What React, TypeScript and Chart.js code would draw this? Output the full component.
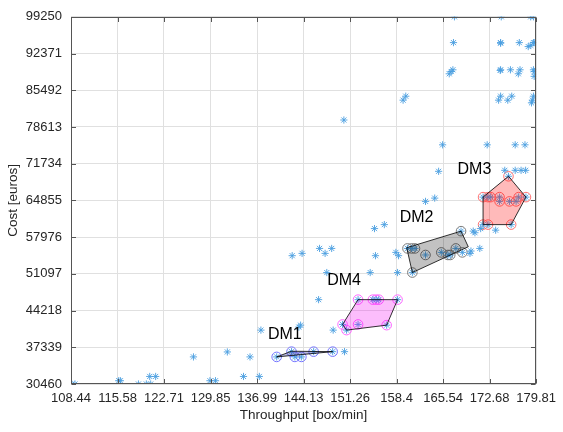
import React, { useEffect, useRef } from 'react';
import { Chart, registerables } from 'chart.js';

Chart.register(...registerables);

const FONT = "'Liberation Sans', Arial, Helvetica, sans-serif";

const xTicks = [108.44, 115.58, 122.71, 129.85, 136.99, 144.13, 151.26, 158.4, 165.54, 172.68, 179.81];
const yTicks = [30460, 37339, 44218, 51097, 57976, 64855, 71734, 78613, 85492, 92371, 99250];

// all solutions (asterisks)
const allX = [
  108.55, 109.05, 115.76, 116.02, 118.79, 120.0, 120.67, 120.52, 121.43, 127.23, 129.76, 130.61, 132.43, 134.91, 135.91, 137.34, 137.58,
  140.0, 142.28, 142.79, 143.79, 145.67, 148.59,
  143.67, 143.4, 150.41, 148.67,
  142.38, 143.9, 146.58, 147.43, 148.44, 146.43, 147.69, 150.31,
  152.49, 154.76, 155.26, 155.67, 158.55, 150.11, 150.72, 152.49, 156.88,
  155.16, 154.35, 155.01, 156.52, 158.29, 158.7, 158.55,
  162.84, 164.25, 164.85, 165.46,
  159.4, 159.81, 166.48, 166.78, 167.04, 167.13, 167.28,
  160.07, 160.72, 161.22, 162.84, 165.26, 166.28, 166.63, 167.49, 168.29, 168.49, 160.82,
  169.66, 169.81, 171.17,
  170.16, 170.42, 171.3, 173.6,
  175.57, 171.67, 172.43, 172.84, 174.2, 174.2, 175.72, 176.74, 177.13, 178.25, 171.67, 172.43, 175.98,
  172.3, 176.6, 178.1,
  175.0, 176.6, 177.5, 178.2,
  174.46, 178.98, 179.4,
  174.36, 174.36, 177.23, 178.6, 179.0, 179.4, 179.61,
  174.36, 174.3, 175.87, 177.08, 177.34, 179.4, 179.51, 179.51,
  174.05, 174.36, 175.46, 176.07, 179.1, 179.25, 179.4,
];
const allY = [
  30460, 30460, 31074, 31074, 30460, 30460, 30460, 31873, 31873, 35536, 31074, 31074, 36465, 31873, 35536, 31873, 40555,
  35536, 36521, 35536, 35536, 36521, 36521,
  41485, 41120, 36521, 40555,
  54500, 54930, 55857, 54930, 55857, 46263, 51339, 79915,
  46263, 46263, 46263, 46263, 46263, 41615, 40555, 41615, 41485,
  54500, 51339, 59575, 60319, 55113, 54500, 51339,
  64669, 65283, 70303, 75267,
  83633, 84377, 88578, 89000, 89322, 94416, 99250,
  55857, 55857, 55857, 54630, 55113, 54630, 54630, 55857, 59092, 55113, 51339,
  54930, 55370, 55857,
  59100, 58800, 59575, 59277,
  69374, 65469, 65469, 65469, 65469, 64669, 64669, 64669, 65469, 65469, 60319, 60319, 60319,
  75267, 75267, 75267,
  70490, 70490, 70490, 70490,
  99250, 99250, 99250,
  94416, 94300, 94416, 93672, 93900, 94416, 94416,
  89322, 89200, 89322, 88578, 89322, 89322, 89000, 88095,
  83633, 84377, 83633, 84377, 83131, 83633, 84377,
];

// decision-maker selections (circles)
const dm1X = [140.0, 142.28, 142.79, 143.79, 145.67, 148.59];
const dm1Y = [35536, 36521, 35536, 35536, 36521, 36521];
const dm2X = [160.07, 160.72, 161.22, 162.84, 165.26, 166.28, 166.63, 167.49, 168.29, 168.49, 160.82];
const dm2Y = [55857, 55857, 55857, 54630, 55113, 54630, 54630, 55857, 59092, 55113, 51339];
const dm3X = [175.57, 171.67, 172.43, 172.84, 174.2, 174.2, 175.72, 176.74, 177.13, 178.25, 171.67, 172.43, 175.98];
const dm3Y = [69374, 65469, 65469, 65469, 65469, 64669, 64669, 64669, 65469, 65469, 60319, 60319, 60319];
const dm4X = [152.49, 154.76, 155.26, 155.67, 158.55, 150.11, 150.72, 152.49, 156.88];
const dm4Y = [46263, 46263, 46263, 46263, 46263, 41615, 40555, 41615, 41485];

// convex hull vertices
const dm1HullX = [140.0, 142.28, 148.59];
const dm1HullY = [35536, 36600, 36521];
const dm2HullX = [159.95, 168.29, 169.4, 160.82];
const dm2HullY = [55990, 59092, 56170, 51339];
const dm3HullX = [175.57, 178.25, 175.98, 171.67, 171.67];
const dm3HullY = [69374, 65469, 60319, 60319, 65469];
const dm4HullX = [152.49, 158.55, 156.88, 150.72, 150.11];
const dm4HullY = [46263, 46263, 41485, 40555, 41615];

const labelNames = ['DM1', 'DM2', 'DM3', 'DM4'];
const labelX = [141.25, 161.47, 170.34, 150.35];
const labelY = [39626, 61565, 70675, 49758];

const zip = (xs: number[], ys: number[]) => xs.map((x, i) => ({ x, y: ys[i] }));

const hulls = [
  { xs: dm1HullX, ys: dm1HullY, fill: 'rgba(60,60,160,0.35)' },
  { xs: dm2HullX, ys: dm2HullY, fill: 'rgba(0,0,0,0.24)' },
  { xs: dm3HullX, ys: dm3HullY, fill: 'rgba(255,0,0,0.27)' },
  { xs: dm4HullX, ys: dm4HullY, fill: 'rgba(245,0,245,0.26)' },
];

const hullPlugin = {
  id: 'hulls',
  afterDatasetDraw(chart: any, args: any) {
    if (args.index !== 0) return;
    const { ctx, scales } = chart;
    ctx.save();
    hulls.forEach((h) => {
      ctx.beginPath();
      h.xs.forEach((x, i) => {
        const px = scales.x.getPixelForValue(x);
        const py = scales.y.getPixelForValue(h.ys[i]);
        if (i === 0) ctx.moveTo(px, py);
        else ctx.lineTo(px, py);
      });
      ctx.closePath();
      ctx.fillStyle = h.fill;
      ctx.fill();
      ctx.strokeStyle = '#000';
      ctx.lineWidth = 0.8;
      ctx.stroke();
    });
    ctx.restore();
  },
};

const labelPlugin = {
  id: 'dmLabels',
  afterDatasetsDraw(chart: any) {
    const { ctx, scales } = chart;
    ctx.save();
    ctx.font = `16px ${FONT}`;
    ctx.fillStyle = '#000';
    ctx.textAlign = 'center';
    ctx.textBaseline = 'middle';
    labelNames.forEach((t, i) => {
      ctx.fillText(t, scales.x.getPixelForValue(labelX[i]), scales.y.getPixelForValue(labelY[i]));
    });
    ctx.restore();
  },
};

const boxPlugin = {
  id: 'box',
  afterDraw(chart: any) {
    const { ctx, chartArea: a, scales } = chart;
    ctx.save();
    ctx.strokeStyle = '#555';
    ctx.lineWidth = 1;
    const L = Math.round(a.left) + 0.5;
    const R = Math.round(a.right) - 0.5;
    const T = Math.round(a.top) + 0.5;
    const B = Math.round(a.bottom) - 0.5;
    ctx.strokeRect(L, T, R - L, B - T);
    ctx.beginPath();
    const tl = 4.5;
    xTicks.forEach((v) => {
      const px = Math.round(scales.x.getPixelForValue(v)) + 0.5;
      ctx.moveTo(px, B); ctx.lineTo(px, B - tl);
      ctx.moveTo(px, T); ctx.lineTo(px, T + tl);
    });
    yTicks.forEach((v) => {
      const py = Math.round(scales.y.getPixelForValue(v)) + 0.5;
      ctx.moveTo(L, py); ctx.lineTo(L + tl, py);
      ctx.moveTo(R, py); ctx.lineTo(R - tl, py);
    });
    ctx.stroke();
    ctx.restore();
  },
};

const starColor = '#4a9ee0';

export default function App() {
  const ref = useRef<HTMLCanvasElement | null>(null);
  useEffect(() => {
    if (!ref.current) return;
    const tickFont = { family: FONT, size: 13 };
    const circle = (xs: number[], ys: number[], color: string) => ({
      data: zip(xs, ys),
      pointStyle: 'circle',
      pointRadius: 4.8,
      borderColor: color,
      backgroundColor: 'rgba(0,0,0,0)',
      borderWidth: 1,
    });
    const chart = new Chart(ref.current, {
      type: 'scatter',
      data: {
        datasets: [
          {
            data: zip(allX, allY),
            pointStyle: 'star',
            pointRadius: 3.6,
            borderColor: starColor,
            backgroundColor: starColor,
            borderWidth: 0.9,
          } as any,
          circle(dm1X, dm1Y, '#7373ff'),
          circle(dm2X, dm2Y, '#7a7a7a'),
          circle(dm3X, dm3Y, '#ff7070'),
          circle(dm4X, dm4Y, '#ff66ff'),
        ],
      },
      options: {
        animation: false,
        responsive: false,
        maintainAspectRatio: false,
        events: [],
        layout: { padding: { top: 14, right: 21, left: 0, bottom: 0 } },
        plugins: { legend: { display: false }, tooltip: { enabled: false } },
        scales: {
          x: {
            type: 'linear',
            min: 108.44,
            max: 179.81,
            afterBuildTicks: (s: any) => { s.ticks = xTicks.map((v) => ({ value: v })); },
            afterFit: (s: any) => { s.height = 48; },
            grid: { color: '#e0e0e0', drawTicks: false },
            border: { display: false },
            ticks: {
              padding: 7,
              color: '#262626',
              font: tickFont,
              maxRotation: 0,
              autoSkip: false,
              callback: (v: any) => String(v),
            },
            title: {
              display: true,
              text: 'Throughput [box/min]',
              color: '#262626',
              font: { family: FONT, size: 13.5 },
              padding: { top: 0, bottom: 9 },
            },
          },
          y: {
            type: 'linear',
            min: 30460,
            max: 99250,
            afterBuildTicks: (s: any) => { s.ticks = yTicks.map((v) => ({ value: v })); },
            afterFit: (s: any) => { s.width = 71; },
            grid: { color: '#e0e0e0', drawTicks: false },
            border: { display: false },
            ticks: {
              padding: 9,
              color: '#262626',
              font: tickFont,
              autoSkip: false,
              callback: (v: any) => String(v),
            },
            title: {
              display: true,
              text: 'Cost [euros]',
              color: '#262626',
              font: { family: FONT, size: 13.5 },
              padding: { top: 5, bottom: 0 },
            },
          },
        },
      } as any,
      plugins: [hullPlugin, labelPlugin, boxPlugin],
    });
    return () => chart.destroy();
  }, []);
  return (
    <div style={{ position: 'fixed', left: 0, top: 0, width: 563, height: 432, background: '#fff' }}>
      <canvas ref={ref} width={563} height={432} style={{ width: 563, height: 432 }} />
    </div>
  );
}
